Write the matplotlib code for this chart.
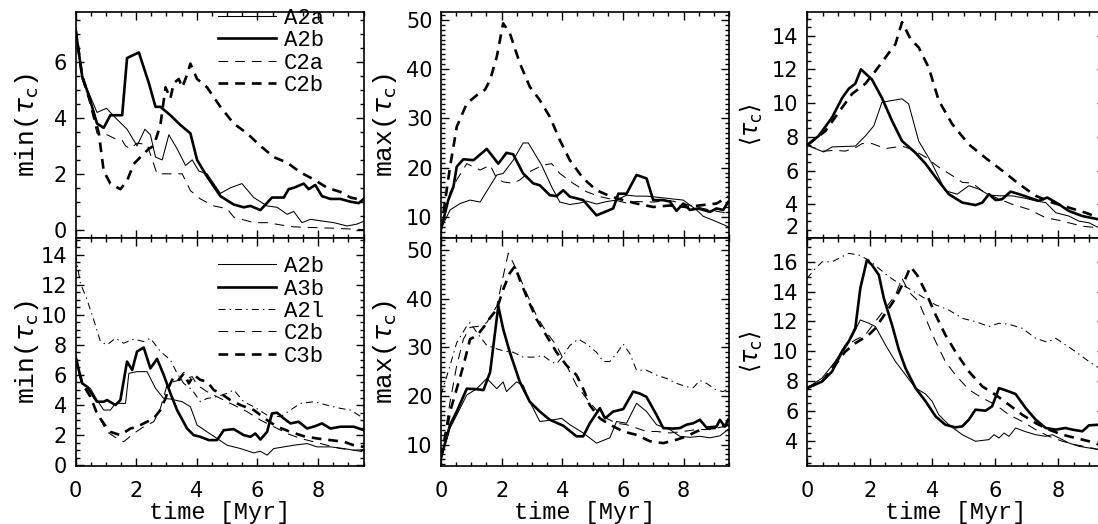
import matplotlib.pyplot as plt
from matplotlib.ticker import MultipleLocator

# ---- data: time [Myr] and tau_c values ----
# top row: min / max / mean for A2a, A2b, C2a, C2b
t_tl_A2a = [0, 0.22, 0.44, 0.71, 1.02, 1.37, 1.70, 2.03, 2.29, 2.47, 2.64, 2.86, 3.08, 3.35, 3.63, 3.85, 4.07, 4.34, 4.78, 5.11, 5.49, 5.88, 6.32, 6.65, 6.98, 7.20, 7.47, 7.75, 8.19, 8.52, 8.96, 9.29, 9.51]
v_tl_A2a = [7.2, 5.4, 4.9, 4.2, 4.35, 3.95, 3.6, 3.0, 3.6, 3.4, 2.6, 2.5, 3.4, 2.9, 2.3, 2.5, 2.1, 2.0, 1.3, 1.5, 1.65, 1.15, 0.85, 0.8, 0.55, 0.65, 0.25, 0.37, 0.3, 0.25, 0.13, 0.2, 0.3]
t_tl_A2b = [0, 0.22, 0.44, 0.71, 0.93, 1.15, 1.54, 1.70, 2.09, 2.42, 2.64, 2.80, 3.13, 3.46, 3.79, 4.01, 4.34, 4.78, 5.22, 5.55, 5.77, 6.10, 6.48, 6.87, 7.03, 7.20, 7.53, 7.69, 7.91, 8.13, 8.41, 8.74, 9.07, 9.34, 9.51]
v_tl_A2b = [7.2, 5.5, 4.8, 3.8, 3.65, 4.1, 4.1, 6.15, 6.35, 5.25, 4.4, 4.4, 4.1, 3.75, 3.45, 2.5, 1.9, 1.2, 0.9, 0.8, 0.85, 0.7, 1.15, 1.15, 1.45, 1.5, 1.65, 1.45, 1.6, 1.2, 1.1, 1.1, 1.0, 0.95, 1.1]
t_tl_C2a = [0, 0.22, 0.44, 0.71, 1.04, 1.32, 1.54, 1.65, 1.81, 2.03, 2.36, 2.58, 2.69, 3.13, 3.52, 3.79, 4.12, 4.56, 5.0, 5.22, 5.88, 6.32, 6.76, 7.20, 7.97, 8.52, 9.51]
v_tl_C2a = [7.2, 5.4, 4.65, 3.45, 3.4, 3.25, 3.2, 3.0, 2.9, 3.1, 3.05, 2.35, 2.0, 2.0, 2.0, 1.4, 1.1, 0.85, 0.75, 0.45, 0.25, 0.25, 0.17, 0.1, 0.07, 0.05, 0.0]
t_tl_C2b = [0, 0.22, 0.49, 0.77, 0.93, 1.15, 1.48, 1.70, 1.92, 2.14, 2.42, 2.58, 2.80, 2.97, 3.13, 3.24, 3.41, 3.52, 3.68, 3.79, 4.01, 4.34, 4.78, 5.22, 5.66, 6.10, 6.54, 6.98, 7.42, 7.86, 8.30, 8.74, 9.07, 9.51]
v_tl_C2b = [7.2, 5.5, 4.6, 3.45, 2.1, 1.65, 1.45, 1.75, 2.35, 2.6, 2.9, 3.0, 3.75, 5.1, 4.7, 5.25, 5.4, 5.1, 5.55, 5.95, 5.4, 5.1, 4.4, 3.8, 3.45, 3.0, 2.6, 2.4, 2.05, 1.8, 1.5, 1.35, 1.15, 1.05]

t_tm_A2a = [0, 0.30, 0.63, 0.96, 1.29, 1.84, 2.05, 2.38, 2.71, 2.88, 3.32, 3.65, 3.92, 4.25, 4.58, 4.80, 5.13, 5.46, 5.79, 6.12, 6.45, 6.78, 7.11, 7.55, 7.99, 8.43, 8.65, 8.98, 9.47]
v_tm_A2a = [7.6, 11.4, 12.7, 13.4, 13.0, 18.5, 18.8, 21.5, 25.0, 25.0, 20.5, 16.1, 13.0, 12.5, 12.8, 13.2, 12.6, 13.1, 13.4, 14.4, 14.2, 14.2, 14.0, 13.7, 13.4, 11.4, 10.1, 9.3, 8.0]
t_tm_A2b = [0, 0.24, 0.41, 0.52, 0.74, 1.07, 1.51, 1.89, 2.16, 2.38, 2.71, 3.04, 3.26, 3.59, 3.81, 4.03, 4.25, 4.69, 5.13, 5.68, 5.85, 6.12, 6.45, 6.78, 7.00, 7.33, 7.55, 7.77, 7.99, 8.21, 8.48, 8.65, 8.87, 9.09, 9.31, 9.47]
v_tm_A2b = [7.5, 13.4, 16.1, 20.2, 21.7, 21.5, 23.8, 20.8, 23.0, 22.7, 18.8, 16.8, 16.4, 14.4, 14.2, 15.4, 14.1, 13.4, 10.3, 11.7, 14.7, 14.7, 18.5, 17.8, 13.4, 13.4, 13.1, 11.2, 12.7, 11.4, 11.7, 11.4, 11.0, 11.7, 11.4, 13.0]
t_tm_C2a = [0, 0.30, 0.52, 0.85, 1.29, 1.62, 1.84, 2.05, 2.38, 2.60, 2.93, 3.37, 3.65, 3.92, 4.36, 4.80, 5.24, 5.68, 6.12, 6.45, 7.00, 7.55, 7.99, 8.43, 8.87, 9.47]
v_tm_C2a = [7.5, 15.0, 17.5, 20.8, 19.5, 20.5, 17.8, 17.1, 16.8, 17.5, 19.2, 20.5, 20.8, 18.8, 16.8, 15.1, 14.1, 13.5, 12.8, 13.1, 13.0, 13.3, 12.7, 12.0, 11.4, 10.7]
t_tm_C2b = [0, 0.30, 0.52, 0.85, 1.18, 1.45, 1.62, 1.84, 2.05, 2.27, 2.60, 2.93, 3.26, 3.59, 3.92, 4.25, 4.69, 5.13, 5.57, 6.01, 6.45, 7.00, 7.55, 8.10, 8.65, 9.09, 9.47]
v_tm_C2b = [7.5, 20.2, 28.3, 33.0, 34.7, 35.8, 37.8, 42.5, 49.3, 47.3, 41.2, 36.4, 33.7, 30.3, 25.6, 21.5, 17.8, 15.4, 14.2, 13.4, 12.7, 12.0, 12.3, 12.0, 12.4, 12.7, 14.1]

t_tr_A2a = [0, 0.53, 0.80, 1.54, 1.86, 2.13, 2.39, 2.71, 3.03, 3.24, 3.56, 3.99, 4.41, 4.79, 5.16, 5.48, 5.80, 6.12, 6.54, 6.97, 7.29, 7.61, 7.93, 8.14, 8.35, 8.67, 8.99, 9.31]
v_tr_A2a = [7.5, 7.1, 7.4, 7.45, 8.05, 8.65, 10.05, 10.15, 10.25, 9.95, 7.75, 6.4, 4.8, 4.6, 5.1, 4.9, 4.55, 4.5, 4.5, 4.35, 4.2, 4.1, 3.5, 3.4, 3.3, 3.0, 2.9, 2.6]
t_tr_A2b = [0, 0.37, 0.80, 1.12, 1.33, 1.54, 1.72, 2.07, 2.39, 2.71, 3.03, 3.46, 3.78, 4.10, 4.52, 4.95, 5.37, 5.59, 5.80, 6.01, 6.22, 6.49, 6.76, 7.07, 7.39, 7.66, 8.03, 8.35, 8.78, 9.31]
v_tr_A2b = [7.5, 8.05, 9.15, 10.3, 10.85, 11.15, 12.0, 11.4, 10.3, 8.95, 7.75, 7.05, 6.4, 5.6, 4.6, 4.1, 3.95, 4.1, 4.6, 4.25, 4.3, 4.75, 4.6, 4.4, 4.2, 4.4, 4.0, 3.6, 3.3, 3.1]
t_tr_C2a = [0, 0.53, 0.90, 1.22, 1.54, 1.76, 2.07, 2.50, 3.03, 3.35, 3.78, 4.20, 4.63, 4.95, 5.27, 5.59, 6.01, 6.54, 7.07, 7.61, 8.03, 8.35, 8.78, 9.31]
v_tr_C2a = [7.5, 7.15, 7.2, 7.15, 7.35, 7.6, 7.6, 7.3, 7.45, 7.25, 6.8, 6.2, 5.7, 5.3, 5.25, 4.8, 4.4, 4.0, 3.7, 3.2, 3.05, 2.9, 2.7, 2.6]
t_tr_C2b = [0, 0.59, 1.01, 1.44, 1.86, 2.18, 2.50, 2.82, 3.03, 3.30, 3.56, 3.88, 4.20, 4.63, 5.16, 5.69, 6.22, 6.76, 7.29, 7.82, 8.35, 8.88, 9.31]
v_tr_C2b = [7.5, 8.35, 9.45, 10.55, 11.15, 11.9, 12.7, 13.5, 14.8, 13.8, 13.3, 12.1, 10.15, 8.75, 7.55, 6.75, 6.0, 5.2, 4.5, 4.1, 3.8, 3.5, 3.2]

# bottom row: A2b, A3b, A2l, C2b, C3b
t_bl_A2b = [0, 0.22, 0.49, 0.71, 0.93, 1.15, 1.32, 1.65, 1.76, 2.03, 2.36, 2.64, 2.91, 3.13, 3.52, 3.79, 4.01, 4.34, 4.67, 5.0, 5.44, 5.88, 6.10, 6.32, 6.54, 6.87, 7.20, 7.64, 7.97, 8.41, 8.85, 9.18, 9.51]
v_bl_A2b = [7.2, 5.44, 5.11, 4.33, 3.67, 3.67, 4.11, 4.11, 6.11, 6.22, 6.22, 5.11, 4.44, 4.4, 4.22, 3.89, 2.67, 2.22, 1.78, 1.33, 1.11, 0.82, 0.93, 0.67, 1.11, 1.22, 1.33, 1.44, 1.22, 1.22, 1.11, 1.0, 1.04]
t_bl_A3b = [0, 0.22, 0.38, 0.71, 0.93, 1.04, 1.32, 1.48, 1.70, 1.87, 2.03, 2.25, 2.47, 2.69, 2.91, 3.13, 3.35, 3.68, 3.90, 4.12, 4.40, 4.67, 4.89, 5.22, 5.55, 5.77, 5.93, 6.10, 6.32, 6.48, 6.65, 6.87, 7.09, 7.36, 7.64, 7.91, 8.13, 8.41, 8.74, 9.18, 9.51]
v_bl_A3b = [7.2, 5.44, 5.22, 4.22, 4.22, 4.33, 4.0, 4.33, 6.89, 6.33, 7.56, 7.82, 6.44, 7.07, 6.0, 4.78, 3.67, 2.44, 2.0, 1.89, 1.67, 1.67, 2.33, 2.4, 2.0, 1.89, 2.11, 1.71, 2.22, 3.44, 3.49, 3.11, 2.78, 2.89, 2.44, 2.6, 2.78, 2.44, 2.56, 2.56, 2.33]
t_bl_A2l = [0, 0.16, 0.38, 0.60, 0.82, 1.04, 1.32, 1.59, 1.92, 2.25, 2.47, 2.80, 3.13, 3.35, 3.57, 3.85, 4.12, 4.34, 4.67, 5.0, 5.22, 5.55, 5.88, 6.32, 6.76, 7.09, 7.42, 7.86, 8.08, 8.41, 8.74, 9.07, 9.51]
v_bl_A2l = [14.0, 12.11, 11.0, 9.67, 8.22, 8.0, 8.44, 8.11, 8.38, 8.22, 8.44, 7.56, 7.0, 6.11, 5.44, 5.0, 4.22, 4.44, 4.56, 4.78, 5.0, 4.22, 3.89, 3.33, 3.22, 3.67, 4.11, 4.22, 4.11, 3.93, 3.78, 3.67, 3.11]
t_bl_C2b = [0, 0.22, 0.49, 0.71, 1.04, 1.37, 1.59, 1.92, 2.25, 2.58, 2.80, 3.02, 3.24, 3.46, 3.68, 3.85, 4.01, 4.34, 4.78, 5.22, 5.66, 6.10, 6.54, 6.98, 7.42, 7.86, 8.30, 8.74, 9.18, 9.51]
v_bl_C2b = [7.2, 5.44, 4.56, 3.44, 2.22, 1.78, 1.56, 2.11, 2.56, 2.89, 3.78, 5.33, 5.56, 5.67, 5.78, 5.89, 5.33, 4.89, 4.44, 4.0, 3.56, 3.0, 2.56, 2.11, 1.78, 1.56, 1.33, 1.11, 1.0, 0.89]
t_bl_C3b = [0, 0.22, 0.49, 0.71, 0.93, 1.15, 1.48, 1.81, 2.03, 2.36, 2.58, 2.80, 2.97, 3.08, 3.24, 3.41, 3.57, 3.74, 3.90, 4.12, 4.34, 4.56, 4.78, 5.11, 5.44, 5.88, 6.32, 6.65, 7.09, 7.53, 7.97, 8.41, 8.85, 9.18, 9.51]
v_bl_C3b = [7.2, 5.44, 4.56, 3.44, 2.78, 2.22, 2.0, 2.44, 2.56, 2.89, 3.11, 3.67, 4.44, 5.22, 5.89, 5.67, 6.11, 5.44, 6.0, 5.67, 5.56, 5.0, 4.78, 4.33, 4.0, 3.67, 3.0, 2.56, 2.22, 1.93, 1.78, 1.67, 1.56, 1.33, 1.22]

t_bm_A2b = [0, 0.30, 0.52, 0.85, 1.18, 1.51, 1.84, 2.05, 2.16, 2.49, 2.71, 2.93, 3.26, 3.70, 3.98, 4.25, 4.69, 5.13, 5.57, 5.79, 6.12, 6.45, 6.78, 7.11, 7.55, 7.88, 8.21, 8.54, 8.87, 9.20, 9.47]
v_bm_A2b = [7.3, 13.4, 16.1, 20.2, 21.5, 23.6, 21.5, 22.9, 20.9, 22.9, 22.2, 18.8, 14.75, 15.1, 15.4, 14.1, 12.4, 10.3, 11.4, 14.75, 14.4, 18.5, 16.8, 14.1, 13.1, 11.7, 11.5, 11.7, 11.4, 11.8, 13.1]
t_bm_A3b = [0, 0.30, 0.52, 0.85, 1.18, 1.40, 1.62, 1.89, 2.05, 2.27, 2.60, 2.93, 3.26, 3.59, 4.03, 4.47, 4.69, 4.91, 5.24, 5.41, 5.68, 6.01, 6.34, 6.56, 6.78, 7.11, 7.33, 7.66, 7.88, 8.10, 8.32, 8.54, 8.76, 9.09, 9.20, 9.36, 9.47]
v_bm_A3b = [7.3, 14.1, 16.8, 21.5, 21.4, 21.2, 24.9, 38.5, 33.8, 29.0, 22.9, 18.8, 16.8, 15.1, 13.9, 11.7, 11.7, 14.4, 17.5, 15.4, 16.8, 17.3, 20.9, 20.5, 19.8, 16.1, 13.4, 13.3, 13.4, 14.1, 14.4, 15.1, 13.5, 13.7, 15.1, 13.7, 15.1]
t_bm_A2l = [0, 0.30, 0.52, 0.85, 0.96, 1.18, 1.51, 1.84, 2.05, 2.38, 2.71, 3.04, 3.37, 3.65, 3.81, 4.03, 4.25, 4.53, 4.80, 5.13, 5.35, 5.57, 5.79, 6.01, 6.23, 6.45, 6.78, 7.11, 7.44, 7.77, 8.10, 8.32, 8.54, 8.76, 9.09, 9.31, 9.47]
v_bm_A2l = [20.2, 26.3, 31.0, 34.4, 35.1, 33.1, 30.4, 29.7, 29.3, 29.0, 28.0, 28.0, 28.3, 27.0, 26.6, 28.3, 30.4, 31.7, 30.7, 29.0, 27.1, 27.1, 28.7, 30.7, 28.7, 25.3, 25.3, 24.3, 23.6, 22.6, 21.9, 21.7, 23.2, 22.6, 21.2, 20.9, 21.5]
t_bm_C2b = [0, 0.30, 0.52, 0.74, 0.96, 1.29, 1.51, 1.84, 2.05, 2.22, 2.49, 2.82, 3.15, 3.48, 3.81, 4.14, 4.47, 4.80, 5.13, 5.46, 5.79, 6.12, 6.45, 6.78, 7.11, 7.55, 7.99, 8.43, 8.87, 9.31, 9.47]
v_bm_C2b = [7.3, 18.8, 26.3, 31.7, 34.1, 34.4, 35.1, 38.5, 44.6, 49.4, 46.0, 41.2, 36.5, 33.1, 30.4, 26.3, 22.2, 19.5, 17.1, 15.4, 14.4, 14.1, 13.4, 12.7, 12.7, 12.4, 12.7, 13.1, 13.1, 13.7, 14.1]
t_bm_C3b = [0, 0.30, 0.52, 0.74, 0.96, 1.18, 1.40, 1.62, 1.84, 2.05, 2.27, 2.44, 2.60, 2.82, 3.15, 3.48, 3.81, 4.14, 4.47, 4.69, 4.91, 5.24, 5.57, 6.01, 6.45, 6.89, 7.33, 7.77, 8.10, 8.43, 8.76, 9.09, 9.47]
v_bm_C3b = [7.3, 16.8, 21.5, 26.3, 31.7, 32.4, 34.1, 36.1, 37.8, 41.9, 45.3, 46.7, 43.9, 40.5, 35.8, 32.4, 29.0, 26.3, 24.3, 21.5, 18.1, 15.4, 14.1, 12.7, 12.0, 10.7, 10.3, 11.0, 11.7, 12.7, 13.4, 13.4, 14.1]

t_br_A2b = [0, 0.48, 0.90, 1.22, 1.44, 1.70, 1.97, 2.18, 2.50, 2.82, 3.14, 3.46, 3.78, 3.99, 4.20, 4.52, 4.95, 5.37, 5.80, 5.96, 6.12, 6.28, 6.44, 6.65, 6.97, 7.29, 7.61, 7.82, 8.14, 8.35, 8.67, 8.99, 9.31]
v_br_A2b = [7.53, 8.2, 9.31, 10.43, 10.99, 12.1, 11.88, 11.66, 10.43, 9.31, 8.42, 7.53, 7.13, 6.64, 5.74, 5.07, 4.4, 3.96, 4.07, 4.4, 4.18, 4.51, 4.29, 4.85, 4.6, 4.4, 4.29, 4.4, 4.07, 3.84, 3.62, 3.51, 3.4]
t_br_A3b = [0, 0.48, 0.80, 1.12, 1.33, 1.54, 1.70, 1.91, 2.07, 2.29, 2.45, 2.71, 2.93, 3.14, 3.46, 3.78, 4.10, 4.41, 4.73, 4.95, 5.16, 5.37, 5.69, 5.90, 6.12, 6.44, 6.65, 6.97, 7.29, 7.61, 7.93, 8.24, 8.46, 8.78, 8.99, 9.31]
v_br_A3b = [7.53, 7.97, 8.64, 9.98, 10.65, 11.55, 14.23, 16.12, 15.79, 15.12, 13.55, 11.77, 10.09, 8.86, 7.53, 6.64, 5.63, 5.07, 4.89, 4.96, 5.41, 6.08, 6.01, 6.3, 7.53, 7.3, 7.13, 6.19, 5.41, 4.85, 4.74, 4.85, 4.74, 4.63, 5.03, 5.07]
t_br_A2l = [0, 0.27, 0.48, 0.80, 1.01, 1.33, 1.65, 1.97, 2.29, 2.61, 2.93, 3.24, 3.67, 4.10, 4.52, 4.95, 5.37, 5.80, 6.12, 6.44, 6.86, 7.29, 7.66, 7.93, 8.24, 8.56, 8.99, 9.31]
v_br_A2l = [14.89, 15.56, 16.0, 16.0, 16.23, 16.57, 16.46, 16.12, 15.56, 15.0, 14.56, 14.22, 13.66, 13.11, 12.77, 12.21, 11.99, 11.66, 11.88, 11.81, 11.54, 10.87, 10.61, 10.87, 10.43, 9.98, 9.31, 8.87]
t_br_C2b = [0, 0.48, 0.90, 1.22, 1.54, 1.86, 2.18, 2.50, 2.82, 3.03, 3.24, 3.56, 3.78, 4.10, 4.41, 4.73, 5.16, 5.59, 6.01, 6.44, 6.86, 7.29, 7.71, 8.14, 8.56, 8.99, 9.31]
v_br_C2b = [7.53, 7.97, 9.31, 10.32, 10.76, 11.1, 11.99, 12.88, 13.77, 14.89, 14.0, 13.33, 12.21, 10.65, 9.31, 8.42, 7.42, 6.86, 6.41, 5.74, 5.29, 4.74, 4.29, 3.96, 3.73, 3.55, 3.4]
t_br_C3b = [0, 0.48, 0.90, 1.22, 1.54, 1.97, 2.18, 2.50, 2.82, 3.14, 3.30, 3.51, 3.78, 4.10, 4.41, 4.73, 5.16, 5.59, 6.01, 6.44, 6.86, 7.29, 7.71, 8.14, 8.56, 8.99, 9.31]
v_br_C3b = [7.53, 7.97, 9.09, 9.98, 10.54, 11.1, 11.54, 12.55, 13.55, 14.89, 15.67, 15.12, 14.0, 12.44, 11.1, 9.98, 8.64, 7.64, 7.08, 6.41, 5.74, 5.18, 4.74, 4.4, 4.18, 3.96, 3.73]

xticks = [0, 2, 4, 6, 8]

plt.rcParams['lines.scale_dashes'] = False
plt.rcParams['mathtext.fontset'] = 'dejavusans'
txtfont = 'Liberation Mono'

thin, thick = 0.75, 1.9
dash = (0, (7, 5))
dashdot = (0, (5, 3, 1, 3))
style = {
    'top': {'A2a': (thin, '-'), 'A2b': (thick, '-'), 'C2a': (thin, dash), 'C2b': (thick, dash)},
    'bot': {'A2b': (thin, '-'), 'A3b': (thick, '-'), 'A2l': (thin, dashdot), 'C2b': (thin, dash), 'C3b': (thick, dash)},
}

fig = plt.figure(figsize=(10.98, 5.24), dpi=100)
W, H = 1098, 524


def add(x0, y0, x1, y1):
    return fig.add_axes([x0 / W, 1 - y1 / H, (x1 - x0) / W, (y1 - y0) / H])


panels = [
    (add(75.5, 12, 363.5, 238), 'top', 'tl', (-0.3, 7.8), 2, 0.5, r'min($\tau_{\rm c}$)'),
    (add(441, 12, 729, 238), 'top', 'tm', (5.7, 51.6), 10, 1, r'max($\tau_{\rm c}$)'),
    (add(807, 12, 1105, 238), 'top', 'tr', (2.0, 15.4), 2, 0.5, r'$\langle\tau_{\rm c}\rangle$'),
    (add(75.5, 238, 363.5, 466), 'bot', 'bl', (-0.05, 15.1), 2, 0.5, r'min($\tau_{\rm c}$)'),
    (add(441, 238, 729, 466), 'bot', 'bm', (5.6, 52.5), 10, 1, r'max($\tau_{\rm c}$)'),
    (add(807, 238, 1105, 466), 'bot', 'br', (2.3, 17.6), 2, 0.5, r'$\langle\tau_{\rm c}\rangle$'),
]

data = globals()
for ax, row, key, ylim, ymaj, ymin, ylab in panels:
    for name, (lw, ls) in style[row].items():
        ax.plot(data['t_%s_%s' % (key, name)], data['v_%s_%s' % (key, name)],
                color='black', lw=lw, linestyle=ls, label=name)
    ax.set_xlim(0, 9.5)
    ax.set_ylim(*ylim)
    ax.set_xticks(xticks)
    ax.xaxis.set_minor_locator(MultipleLocator(0.5))
    ax.yaxis.set_major_locator(MultipleLocator(ymaj))
    ax.yaxis.set_minor_locator(MultipleLocator(ymin))
    ax.tick_params(which='both', direction='in', top=True, right=True, width=1)
    ax.tick_params(which='major', length=6, labelsize=15, pad=6)
    ax.tick_params(which='minor', length=3)
    ax.tick_params(axis='x', pad=11)
    for sp in ax.spines.values():
        sp.set_linewidth(1.2)
    fs = 17 if key[1] == 'r' else 19
    ax.set_ylabel(ylab, fontsize=fs, family=txtfont, va='center')
    off = 48.5 if key[1] == 'l' else 56
    ax.yaxis.set_label_coords(-off / ax.bbox.width, 0.5)
    if row == 'top':
        ax.tick_params(axis='x', labelbottom=False)
    else:
        ax.set_xlabel('time [Myr]', fontsize=17, family=txtfont, va='center')
        ax.xaxis.set_label_coords(0.5, -46 / ax.bbox.height)

# lowest label of the top-right panel sits just above the shared border
ax_tr = panels[2][0]
ax_tr.set_yticks([2, 4, 6, 8, 10, 12, 14])
ax_tr.get_yticklabels()[0].set_va('bottom')

legend_kw = dict(loc='upper left', frameon=False, prop={'family': txtfont, 'size': 16},
                 handlelength=2.6, handletextpad=0.35, labelspacing=0.06,
                 borderpad=0, borderaxespad=0)
panels[0][0].legend(bbox_to_anchor=(0.495, 1.018), **legend_kw)
panels[3][0].legend(bbox_to_anchor=(0.495, 0.92), **legend_kw)

fig.savefig('out.png', dpi=100)
